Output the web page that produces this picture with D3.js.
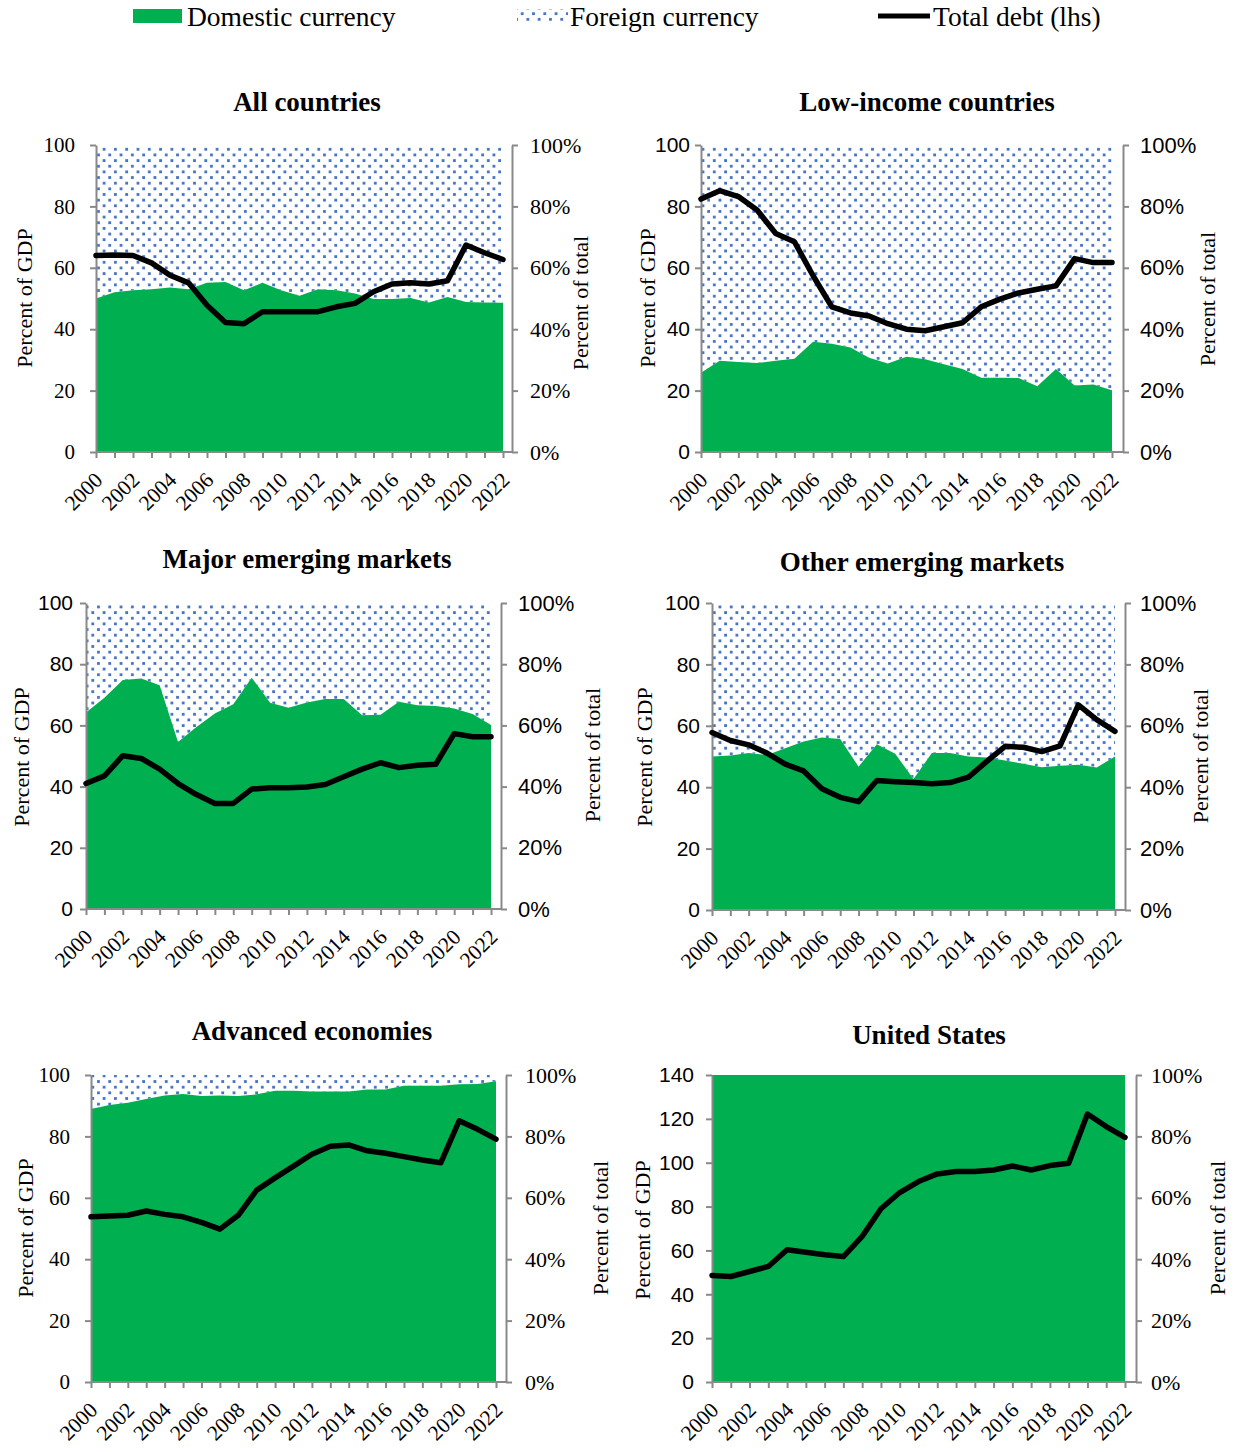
<!DOCTYPE html>
<html><head><meta charset="utf-8">
<script src="https://cdn.jsdelivr.net/npm/d3@7"></script>
<style>body{margin:0;background:#fff} svg{display:block}</style>
</head><body>
<svg id="chart" width="1238" height="1452"></svg>
<script>
// ---------- DATA ----------
const years = [2000,2001,2002,2003,2004,2005,2006,2007,2008,2009,2010,2011,2012,2013,2014,2015,2016,2017,2018,2019,2020,2021,2022];
const legendLabels = ["Domestic currency", "Foreign currency", "Total debt (lhs)"];
const panelTitles = ["All countries","Low-income countries","Major emerging markets","Other emerging markets","Advanced economies","United States"];
const leftTicksStd = [0,20,40,60,80,100];
const leftTicksUS = [0,20,40,60,80,100,120,140];
const rightTicks = [0,20,40,60,80,100];

// domestic currency share (percent of total, rhs)
const domAll = [50.0,52.0,52.7,53.0,53.6,53.0,55.1,55.4,52.7,55.1,52.7,50.9,53.0,52.7,51.6,49.8,49.8,50.2,48.7,50.5,48.9,48.7,48.6];
const domLIC = [25.8,29.7,29.3,29.0,29.7,30.4,35.9,35.3,34.0,30.7,28.8,31.0,30.2,28.6,27.0,24.2,24.2,24.1,21.4,27.0,21.7,22.0,20.1];
const domMEM = [64.2,69.0,74.8,75.3,73.1,54.6,59.5,63.9,66.9,75.6,67.4,65.8,67.5,68.6,68.6,63.3,63.5,67.7,66.6,66.3,65.5,63.7,60.1];
const domOEM = [50.0,50.3,51.1,50.5,52.7,54.9,56.2,55.7,46.7,54.0,50.9,42.7,51.1,51.1,50.0,49.7,48.7,47.6,46.5,47.0,47.3,46.4,50.0];
const domAE  = [88.9,90.2,91.0,92.2,93.3,93.8,93.2,93.3,93.2,93.7,94.9,94.9,94.6,94.6,94.6,95.3,95.3,96.5,96.5,96.5,97.0,97.1,98.0];
const domUS  = [100,100,100,100,100,100,100,100,100,100,100,100,100,100,100,100,100,100,100,100,100,100,100];

// total debt (percent of GDP, lhs)
const debtAll = [64.0,64.2,64.0,61.6,57.6,55.1,47.8,42.2,41.8,45.7,45.7,45.7,45.7,47.3,48.4,52.2,54.7,55.1,54.7,55.8,67.4,64.9,62.7];
const debtLIC = [82.4,85.1,83.2,78.8,71.2,68.5,57.4,47.3,45.3,44.3,41.8,40.0,39.5,40.8,42.1,47.3,49.8,51.8,53.0,54.1,63.0,61.7,61.7];
const debtMEM = [41.0,43.5,50.1,49.2,45.7,41.0,37.4,34.5,34.5,39.2,39.6,39.6,39.9,40.7,43.2,45.7,47.8,46.2,47.0,47.3,57.3,56.3,56.3];
const debtOEM = [57.8,55.2,53.8,51.1,47.5,45.3,39.5,36.7,35.3,42.2,41.8,41.5,41.1,41.5,43.3,48.4,53.3,53.0,51.6,53.5,66.8,62.0,58.2];
const debtAE  = [53.8,54.1,54.3,55.7,54.6,53.8,52.0,49.8,54.3,62.5,66.5,70.3,74.2,76.8,77.2,75.3,74.5,73.4,72.3,71.4,85.1,82.3,79.1];
const debtUS  = [48.6,48.1,50.4,52.7,60.3,59.2,58.0,57.2,66.4,79.0,86.4,91.4,94.9,96.0,96.0,96.7,98.5,96.7,98.7,99.8,122.2,116.5,111.6];

// ---------- LAYOUT ----------
const SERIF = "'Liberation Serif','Times New Roman',serif";
const SANS = "'Liberation Sans',Arial,sans-serif";
const GREEN = "#00b050", DOT = "#4472c4", AXIS = "#898989";

const panels = [
  {title:panelTitles[0], dom:domAll, debt:debtAll, lt:leftTicksStd, L:96, R:512, E:503, T:145, B:452, tx:307, ty:111, lf:SERIF, rf:SERIF, lp:15, rp:12, ltx:24, lty:298, rtx:580, rty:303},
  {title:panelTitles[1], dom:domLIC, debt:debtLIC, lt:leftTicksStd, L:701, R:1123, E:1112, T:145, B:452, tx:927, ty:111, lf:SANS, rf:SANS, lp:5, rp:11, ltx:647, lty:298, rtx:1207, rty:299},
  {title:panelTitles[2], dom:domMEM, debt:debtMEM, lt:leftTicksStd, L:86, R:501, E:491, T:603, B:909, tx:307, ty:568, lf:SANS, rf:SANS, lp:7, rp:11, ltx:21, lty:757, rtx:592, rty:755},
  {title:panelTitles[3], dom:domOEM, debt:debtOEM, lt:leftTicksStd, L:712, R:1125, E:1115, T:603, B:910, tx:922, ty:571, lf:SANS, rf:SANS, lp:6, rp:9, ltx:644, lty:757, rtx:1200, rty:756},
  {title:panelTitles[4], dom:domAE, debt:debtAE, lt:leftTicksStd, L:91, R:506, E:496, T:1075, B:1382, tx:312, ty:1040, lf:SERIF, rf:SERIF, lp:15, rp:13, ltx:25, lty:1228, rtx:600, rty:1228},
  {title:panelTitles[5], dom:domUS, debt:debtUS, lt:leftTicksUS, L:712, R:1136, E:1125, T:1075, B:1382, tx:929, ty:1044, lf:SANS, rf:SERIF, lp:12, rp:9, ltx:642, lty:1230, rtx:1217, rty:1228}
];

const svg = d3.select("#chart");
const defs = svg.append("defs");
const pat = defs.append("pattern").attr("id","dots").attr("patternUnits","userSpaceOnUse")
  .attr("width",11.3).attr("height",11.3);
pat.append("rect").attr("x",1).attr("y",1).attr("width",2.8).attr("height",2.8).attr("fill",DOT);
pat.append("rect").attr("x",6.65).attr("y",6.65).attr("width",2.8).attr("height",2.8).attr("fill",DOT);

// ---------- LEGEND ----------
const lg = svg.append("g");
lg.append("rect").attr("x",133).attr("y",9).attr("width",49).attr("height",14).attr("fill",GREEN);
lg.append("text").attr("x",187).attr("y",26).text(legendLabels[0]);
lg.append("rect").attr("x",517).attr("y",9).attr("width",51).attr("height",14).attr("fill","url(#dots)");
lg.append("text").attr("x",570).attr("y",26).text(legendLabels[1]);
lg.append("line").attr("x1",878).attr("x2",930).attr("y1",16).attr("y2",16).attr("stroke","#000").attr("stroke-width",5);
lg.append("text").attr("x",933).attr("y",26).text(legendLabels[2]);
lg.selectAll("text").attr("font-family",SERIF).attr("font-size",27.5).attr("fill","#000");

// ---------- PANELS ----------
panels.forEach(p => {
  const g = svg.append("g");
  const x = d3.scaleLinear().domain([years[0], years[years.length-1]]).range([p.L, p.E]);
  const yL = d3.scaleLinear().domain([0, p.lt[p.lt.length-1]]).range([p.B, p.T]);
  const yR = d3.scaleLinear().domain([0, 100]).range([p.B, p.T]);
  const rows = years.map((yr,i) => ({yr, dom:p.dom[i], debt:p.debt[i]}));

  g.append("path").datum(rows)
    .attr("d", d3.area().x(d=>x(d.yr)).y0(d=>yR(d.dom)).y1(()=>yR(100)))
    .attr("fill","url(#dots)");
  g.append("path").datum(rows)
    .attr("d", d3.area().x(d=>x(d.yr)).y0(()=>yR(0)).y1(d=>yR(d.dom)))
    .attr("fill",GREEN);

  const ax = d3.axisLeft(yL).tickValues(p.lt).tickSize(6).tickSizeOuter(0).tickPadding(p.lp);
  const ga = g.append("g").attr("transform",`translate(${p.L},0)`).call(ax);
  const arx = d3.axisRight(yR).tickValues(rightTicks).tickSize(6).tickSizeOuter(0).tickPadding(p.rp).tickFormat(d=>d+"%");
  const gr = g.append("g").attr("transform",`translate(${p.R},0)`).call(arx);
  const axb = d3.axisBottom(x).tickValues(years).tickSize(6).tickSizeOuter(0).tickFormat(d => d%2===0 ? String(d) : "");
  const gb = g.append("g").attr("transform",`translate(0,${p.B})`).call(axb);
  gb.select(".domain").remove();
  g.append("line").attr("x1",p.L).attr("x2",p.R).attr("y1",p.B).attr("y2",p.B)
    .attr("stroke",AXIS).attr("stroke-width",2);

  [ga,gr,gb].forEach(a => {
    a.attr("font-family",null).attr("font-size",null);
    a.selectAll(".domain").attr("stroke",AXIS).attr("stroke-width",2);
    a.selectAll(".tick line").attr("stroke",AXIS).attr("stroke-width",2);
    a.selectAll("text").attr("fill","#000");
  });
  ga.selectAll("text").style("font-family",p.lf).style("font-size","21px");
  gr.selectAll("text").style("font-family",p.rf).style("font-size","22px");
  gb.selectAll("text").style("font-family",SERIF).style("font-size","21.5px")
    .attr("text-anchor","end").attr("y",null)
    .attr("transform","translate(2,24) rotate(-45)").attr("dy","0.35em");

  g.append("path").datum(rows)
    .attr("d", d3.line().x(d=>x(d.yr)).y(d=>yL(d.debt)))
    .attr("fill","none").attr("stroke","#000").attr("stroke-width",5.5)
    .attr("stroke-linejoin","round").attr("stroke-linecap","round");

  g.append("text").attr("x",p.tx).attr("y",p.ty).attr("text-anchor","middle")
    .attr("font-family",SERIF).attr("font-weight","bold").attr("font-size",27).text(p.title);
  g.append("text").attr("transform",`translate(${p.ltx},${p.lty}) rotate(-90)`).attr("dy","0.35em")
    .attr("text-anchor","middle").attr("font-family",SERIF).attr("font-size",22).text("Percent of GDP");
  g.append("text").attr("transform",`translate(${p.rtx},${p.rty}) rotate(-90)`).attr("dy","0.35em")
    .attr("text-anchor","middle").attr("font-family",SERIF).attr("font-size",22).text("Percent of total");
});
</script>
</body></html>
